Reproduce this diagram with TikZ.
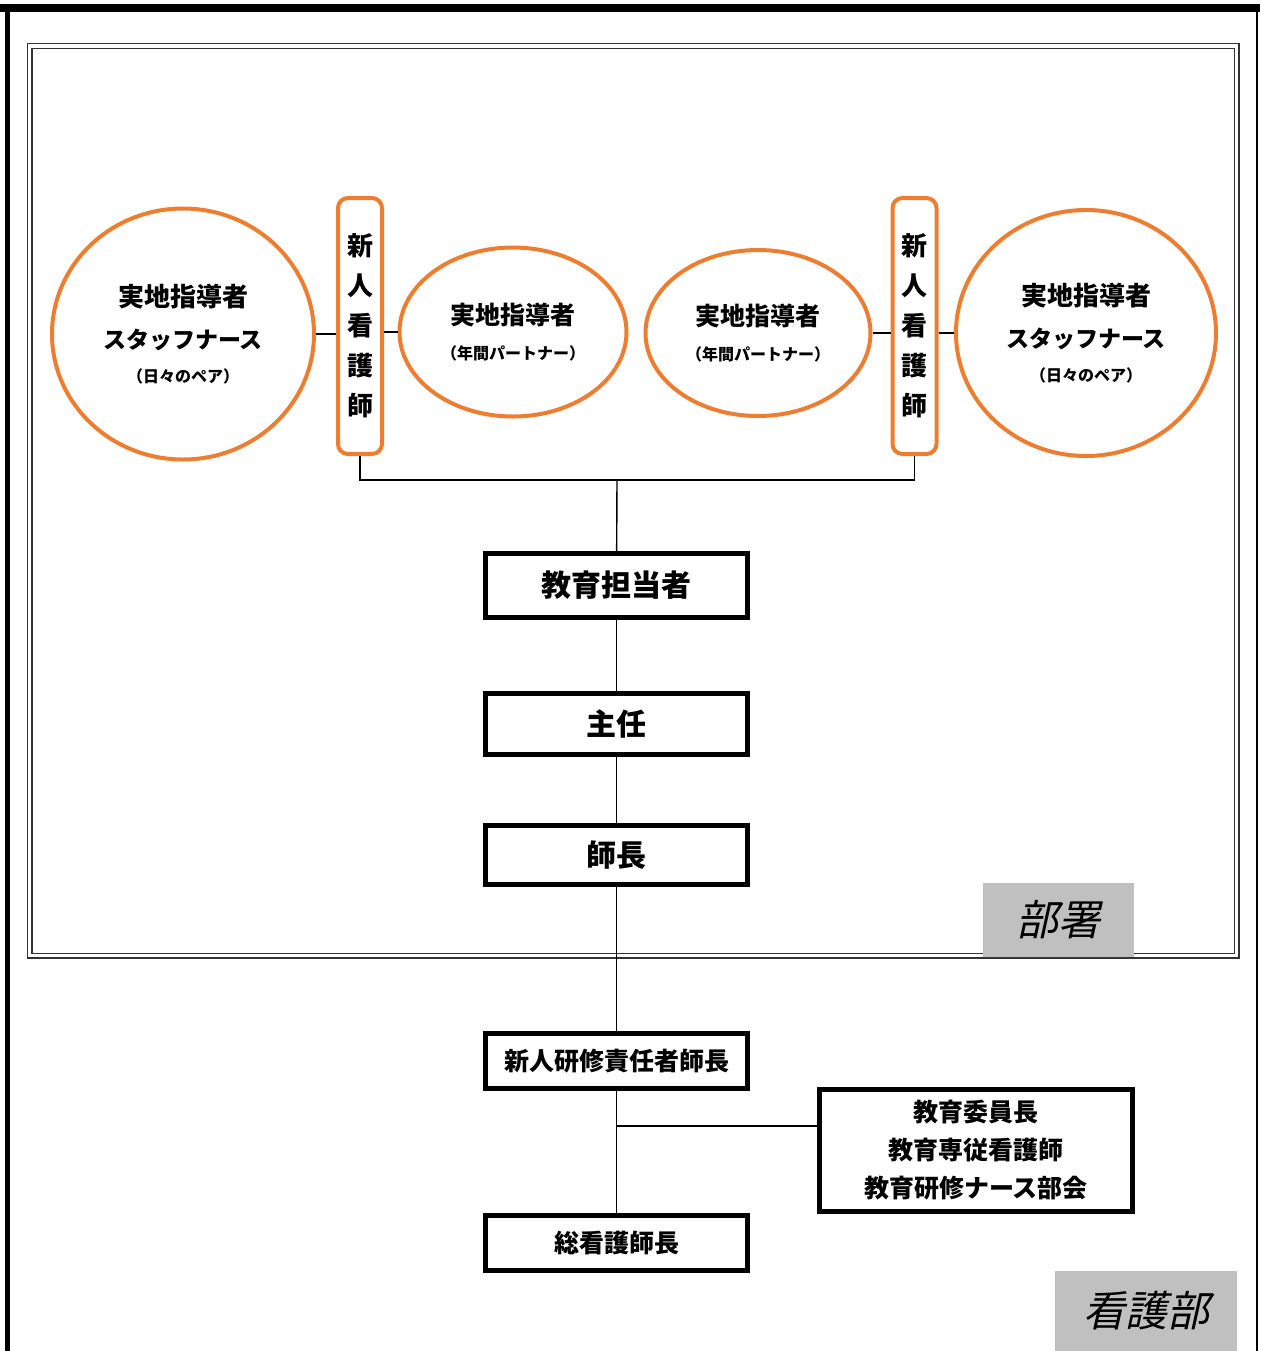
\documentclass[tikz,border=0pt]{standalone}
\usepackage{fontspec}
\setmainfont{Noto Sans CJK JP}
\newfontfamily\slantjp{Noto Sans CJK JP}[FakeSlant=0.22]
\usetikzlibrary{shapes.geometric}
\definecolor{pairorange}{RGB}{237,125,49}
\definecolor{areagray}{RGB}{192,192,192}

\begin{document}
\begin{tikzpicture}[x=0.5pt, y=-0.5pt,
    pair/.style={ellipse, draw=pairorange, line width=2pt, inner sep=0pt, align=center, font=\bfseries},
    newnurse/.style={draw=pairorange, line width=2pt, rounded corners=5pt, inner sep=0pt, minimum width=22pt, minimum height=128pt, align=center, font=\bfseries\fontsize{13}{20}\selectfont},
    rank/.style={draw, line width=2.5pt, inner sep=0pt, minimum width=131pt, align=center, font=\bfseries},
    area/.style={fill=areagray, inner sep=0pt, font=\slantjp\fontsize{21}{21}\selectfont},
    link/.style={line width=0.7pt}]
    \useasboundingbox (0, 0) rectangle (1260, 1351);

    % Page frame and ward frame
    \draw[line width=4pt] (0, 8) -- (1260, 8);
    \draw[line width=2.5pt] (7.5, 8) -- (7.5, 1351);
    \draw[line width=0.8pt] (1257, 8) -- (1257, 1351);
    \draw[double=white, double distance=1.6pt, line width=0.7pt, black!80] (29.5, 46) rectangle (1236.5, 955.5);

    % Pairs in the ward
    \node (st_l) at (183, 334) [pair, minimum width=131pt, minimum height=125.5pt] {\fontsize{13}{22}\selectfont 実地指導者\\[9pt]\fontsize{11.5}{19}\selectfont スタッフナース\\[5pt]\fontsize{8}{12}\selectfont （日々のペア）};
    \node (nn_l) at (360, 326) [newnurse] {新\\人\\看\\護\\師};
    \node (pt_l) at (513, 332) [pair, minimum width=113.5pt, minimum height=84.5pt] {\fontsize{12.5}{18}\selectfont 実地指導者\\[5.5pt]\fontsize{8}{12}\selectfont （年間パートナー）};
    \node (pt_r) at (758, 333) [pair, minimum width=112.5pt, minimum height=83pt] {\fontsize{12.5}{18}\selectfont 実地指導者\\[5.5pt]\fontsize{8}{12}\selectfont （年間パートナー）};
    \node (nn_r) at (914.5, 326) [newnurse] {新\\人\\看\\護\\師};
    \node (st_r) at (1086, 333) [pair, minimum width=130pt, minimum height=123pt] {\fontsize{13}{22}\selectfont 実地指導者\\[9pt]\fontsize{11.5}{19}\selectfont スタッフナース\\[5pt]\fontsize{8}{12}\selectfont （日々のペア）};
    \draw[link] (st_l.east) -- (st_l.east -| nn_l.west);
    \draw[link] (pt_l.west) -- (pt_l.west -| nn_l.east);
    \draw[link] (pt_r.east) -- (pt_r.east -| nn_r.west);
    \draw[link] (st_r.west) -- (st_r.west -| nn_r.east);

    % Line of command
    \coordinate (bus) at (617, 480);
    \node (edu) at (616.5, 585.5) [rank, minimum height=32pt, font=\bfseries\fontsize{15}{15}\selectfont] {教育担当者};
    \node (chief) at (616.5, 724) [rank, minimum height=30.5pt, font=\bfseries\fontsize{15}{15}\selectfont] {主任};
    \node (head) at (616.5, 855) [rank, minimum height=29.5pt, font=\bfseries\fontsize{15}{15}\selectfont] {師長};
    \node (trainhead) at (616.5, 1061) [rank, minimum height=27.5pt, font=\bfseries\fontsize{12.5}{12.5}\selectfont] {新人研修責任者師長};
    \node (dirnurse) at (616.5, 1243) [rank, minimum height=27.5pt, font=\bfseries\fontsize{12.5}{12.5}\selectfont] {総看護師長};
    \node (committee) at (976, 1150.5) [rank, minimum width=156.5pt, minimum height=61pt, font=\bfseries\fontsize{12.5}{19}\selectfont] {教育委員長\\教育専従看護師\\教育研修ナース部会};
    \draw[link] (nn_l.south) |- (bus) -| (nn_r.south);
    \draw[link] (bus) -- (edu);
    \draw[link] (edu) -- (chief);
    \draw[link] (chief) -- (head);
    \draw[link] (head) -- (trainhead);
    \draw[link] (trainhead) -- (dirnurse);
    \coordinate (tap) at (617, 1126);
    \draw[link] (tap) -- (tap -| committee.west);

    % Area labels
    \node (bu_label) at (1058.5, 920) [area, minimum width=75.5pt, minimum height=37pt] {部署};
    \node (kb_label) at (1146, 1311) [area, minimum width=91pt, minimum height=40pt] {看護部};
\end{tikzpicture}
\end{document}
